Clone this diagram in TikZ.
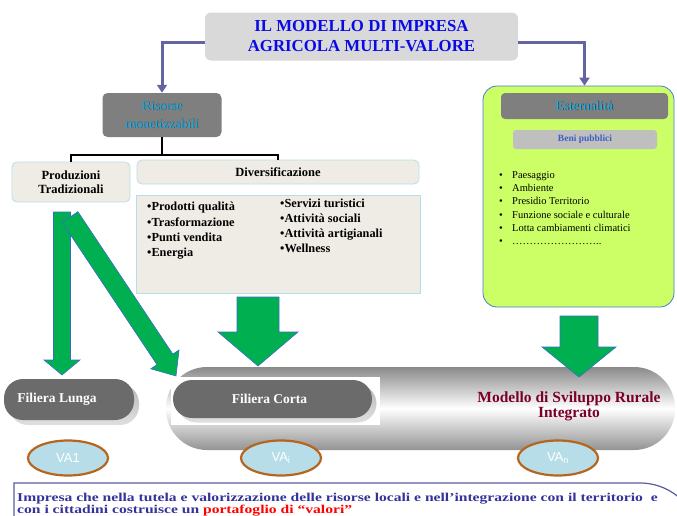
\documentclass[tikz,border=0pt]{standalone}
\usepackage{fontspec}
\setmainfont{Liberation Serif}
\newfontfamily\vafont{Liberation Sans}
\usetikzlibrary{calc,arrows.meta,shapes.geometric}

\definecolor{titlefill}{HTML}{D9D9D9}
\definecolor{titleblue}{HTML}{0A0AE6}
\definecolor{linkblue}{HTML}{6464A0}
\definecolor{darkfill}{HTML}{7F7F7F}
\definecolor{lighttext}{HTML}{18B4F0}
\definecolor{beigefill}{HTML}{EEECE4}
\definecolor{beigeedge}{HTML}{B7DEE8}
\definecolor{arrowgreen}{HTML}{00B050}
\definecolor{arrowedge}{HTML}{3A6AD0}
\definecolor{limefill}{HTML}{CCFF66}
\definecolor{limeedge}{HTML}{4A78D8}
\definecolor{benifill}{HTML}{BFBFBF}
\definecolor{beniblue}{HTML}{3D5FC4}
\definecolor{pillgray}{HTML}{6B6B6B}
\definecolor{capsgray}{HTML}{8A8A8A}
\definecolor{modelred}{HTML}{7A0026}
\definecolor{vafill}{HTML}{B7DEE8}
\definecolor{vaedge}{HTML}{B5651D}
\definecolor{footblue}{HTML}{333399}
\definecolor{footedge}{HTML}{5A5AA0}

\newcommand\shadowed[1]{\rlap{\kern0.7pt\raisebox{-0.7pt}{\textcolor{black!80}{#1}}}#1}
\newcommand\greenarrow[5]{%
  \coordinate (head-base) at ($(#2)!#5!(#1)$);
  \draw[bigarrow] ($(#1)!#3!90:(#2)$) -- ($(head-base)!#3!-90:(#1)$)
    -- ($(head-base)!#4!-90:(#1)$) -- (#2)
    -- ($(head-base)!#4!90:(#1)$) -- ($(head-base)!#3!90:(#1)$)
    -- ($(#1)!#3!-90:(#2)$) -- cycle;}

\begin{document}
\begin{tikzpicture}[x=1pt,y=-1pt,
  every node/.style={align=center,inner sep=0pt},
  link/.style={linkblue,line width=3pt,-{Triangle[width=10pt,length=8pt]}},
  fork/.style={black,line width=1.6pt},
  titlebox/.style={fill=titlefill,rounded corners=6pt,text=titleblue,font=\bfseries\fontsize{16.8}{20}\selectfont},
  greybox/.style={fill=darkfill,rounded corners=5pt,text=lighttext,font=\fontsize{13.5}{18}\selectfont},
  beigebox/.style={draw=beigeedge,fill=beigefill,line width=0.8pt,rounded corners=5pt,font=\bfseries\fontsize{12.5}{14}\selectfont},
  bigarrow/.style={fill=arrowgreen,draw=arrowedge,line width=0.6pt},
  pill/.style={fill=pillgray,rounded corners=19pt,text=white,font=\bfseries\fontsize{13.5}{16}\selectfont},
  pillshadow/.style={top color=gray!55,bottom color=gray!25,rounded corners=19pt},
  vabox/.style={ellipse,draw=vaedge,fill=vafill,line width=2.2pt,minimum width=80pt,minimum height=35pt,text=white,font=\vafont\fontsize{13}{14}\selectfont}]
\clip (0,0) rectangle (677,515);

\node[titlebox,minimum width=313pt,minimum height=48pt] (title) at (361.5,36.5) {IL MODELLO DI IMPRESA\\AGRICOLA MULTI-VALORE};

\node[greybox,minimum width=119pt,minimum height=44pt] (risorse) at (162,115) {\shadowed{Risorse}\\\shadowed{monetizzabili}};
\node[beigebox,minimum width=118pt,minimum height=40pt] (prod) at (71,182) {Produzioni\\Tradizionali};
\node[beigebox,minimum width=282pt,minimum height=24pt] (divers) at (278,172) {Diversificazione};
\node[draw=beigeedge,fill=beigefill,line width=0.8pt,minimum width=284pt,minimum height=98pt] (attivita) at (278,244) {};
\node[anchor=north west,align=left,font=\bfseries\fontsize{12.3}{15.3}\selectfont] (attl) at (147,202)
  {\textbullet Prodotti qualità\\\textbullet Trasformazione\\\textbullet Punti vendita\\\textbullet Energia};
\node[anchor=north west,align=left,font=\bfseries\fontsize{12.3}{15}\selectfont] (attr) at (280,199)
  {\textbullet Servizi turistici\\\textbullet Attività sociali\\\textbullet Attività artigianali\\\textbullet Wellness};

\node[draw=limeedge,fill=limefill,rounded corners=14pt,line width=0.8pt,minimum width=191pt,minimum height=221pt] (extern) at (578.5,196.5) {};
\node[greybox,rounded corners=4pt,minimum width=167pt,minimum height=26pt] (exthead) at (584.5,106) {\shadowed{Esternalità}};
\node[fill=benifill,rounded corners=3pt,minimum width=144pt,minimum height=19pt,text=beniblue,font=\bfseries\fontsize{9.5}{11}\selectfont] (beni) at (585,139.5) {Beni pubblici};
\node[anchor=north west,align=left,font=\fontsize{10.5}{13.3}\selectfont] (benilist) at (499,171)
  {\makebox[13pt][l]{\textbullet}Paesaggio\\\makebox[13pt][l]{\textbullet}Ambiente\\
   \makebox[13pt][l]{\textbullet}Presidio Territorio\\\makebox[13pt][l]{\textbullet}Funzione sociale e culturale\\
   \makebox[13pt][l]{\textbullet}Lotta cambiamenti climatici\\\makebox[13pt][l]{\textbullet}……………………..};

\draw[link] ([yshift=-5.5pt]title.west) -| (risorse.north);
\draw[link] ([yshift=-5.5pt]title.east) -| (extern.north -| exthead);
\draw[fork] (risorse.south) -- ++(0,18) coordinate (split);
\draw[fork] (prod.north) |- (split) -| (divers.north);

\node[rounded corners=41pt,top color=capsgray,bottom color=gray!85,middle color=white,minimum width=509pt,minimum height=83pt] (sviluppo) at (420.5,408.5) {};
\node[fill=white,minimum width=209pt,minimum height=48pt] (cortabg) at (275.5,401) {};
\node[pillshadow,minimum width=199pt,minimum height=38pt] (corta-shadow) at (277,403.5) {};
\node[pill,minimum width=199pt,minimum height=38pt] (corta) at (272.5,399) {Filiera Corta\hspace*{6pt}};
\node[pillshadow,minimum width=130pt,minimum height=41pt] (lunga-shadow) at (74,404.5) {};
\node[pill,minimum width=130pt,minimum height=41pt] (lunga) at (69,399.5) {Filiera Lunga\hspace*{24pt}};
\node[text=modelred,font=\bfseries\fontsize{15.5}{15}\selectfont] (modello) at (569,406) {Modello di Sviluppo Rurale\\Integrato};

\coordinate (lunga-from) at (62,212);
\coordinate (lunga-to) at (62,375);
\coordinate (corta-from) at (70,217);
\coordinate (corta-to) at (176,376);
\coordinate (div-from) at (258,297);
\coordinate (div-to) at (258,366);
\coordinate (ext-from) at (579,316);
\coordinate (ext-to) at (579,377);
\greenarrow{lunga-from}{lunga-to}{8.5pt}{18pt}{15pt}
\greenarrow{corta-from}{corta-to}{9.5pt}{17pt}{20pt}
\greenarrow{div-from}{div-to}{21pt}{40pt}{34pt}
\greenarrow{ext-from}{ext-to}{19pt}{37pt}{30pt}

\node[vabox] (va1) at (68,458) {VA1};
\node[vabox] (vai) at (281,458) {VA\textsubscript{i}};
\node[vabox] (van) at (558,458) {VA\textsubscript{n}};

\draw[footedge,line width=1.2pt] (14,540) -- (14,483) -- (640,483) arc[start angle=90,end angle=0,radius=60pt] -- (700,560);
\node[anchor=north west,align=left,text=footblue,font=\bfseries\fontsize{12}{12.3}\selectfont] (impresa) at (17,493)
  {\scalebox{1.3}[1]{Impresa che nella tutela e valorizzazione delle risorse locali e nell'integrazione con il territorio~ e}\\
   \scalebox{1.3}[1]{con i cittadini costruisce un \textcolor{red}{portafoglio di “valori”}}};
\end{tikzpicture}
\end{document}
